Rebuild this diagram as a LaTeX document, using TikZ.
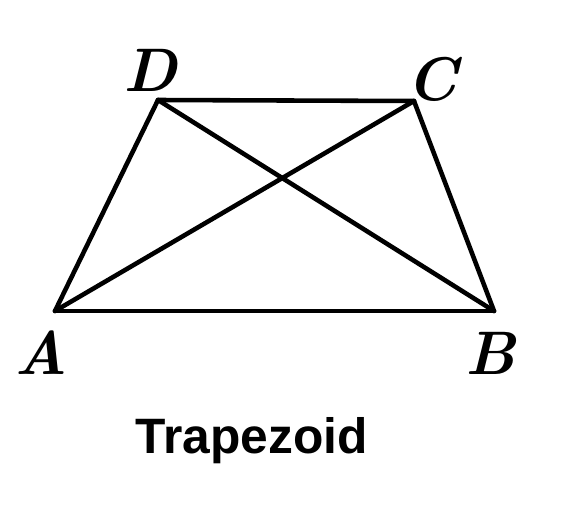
\documentclass[tikz,border=0pt]{standalone}
\usepackage{fontspec}
\usepackage{tikz}
\newfontfamily\captionfont{Liberation Sans}

\tikzset{
  vlabel/.style={inner sep=0pt, font=\fontsize{35}{40}\selectfont\bfseries\itshape},
  caption/.style={inner sep=0pt, font=\fontsize{28.3}{32}\selectfont\captionfont\bfseries}
}

\begin{document}
\begin{tikzpicture}[x=0.02cm, y=-0.02cm, line width=2.6pt, line join=round, line cap=round]
            \useasboundingbox (0,0) rectangle (562,514);

            % Vertices
            \coordinate (A) at (55,311);
            \coordinate (B) at (494,311);
            \coordinate (C) at (414,101);
            \coordinate (D) at (158,100);

            % Labels
            \node[vlabel] (lA) at (41,353) {A};
            \node[vlabel] (lB) at (491,353) {B};
            \node[vlabel] (lC) at (432,79) {C};
            \node[vlabel] (lD) at (150,70) {D};

            % Edges
            \draw[-] (A) -- (B);
            \draw[-] (B) -- (C);
            \draw[-] (C) -- (D);
            \draw[-] (D) -- (A);
            \draw[-] (A) -- (C);
            \draw[-] (B) -- (D);

            % Caption
            \node[caption] (title) at (252,441) {Trapezoid};
        \end{tikzpicture}
\end{document}
